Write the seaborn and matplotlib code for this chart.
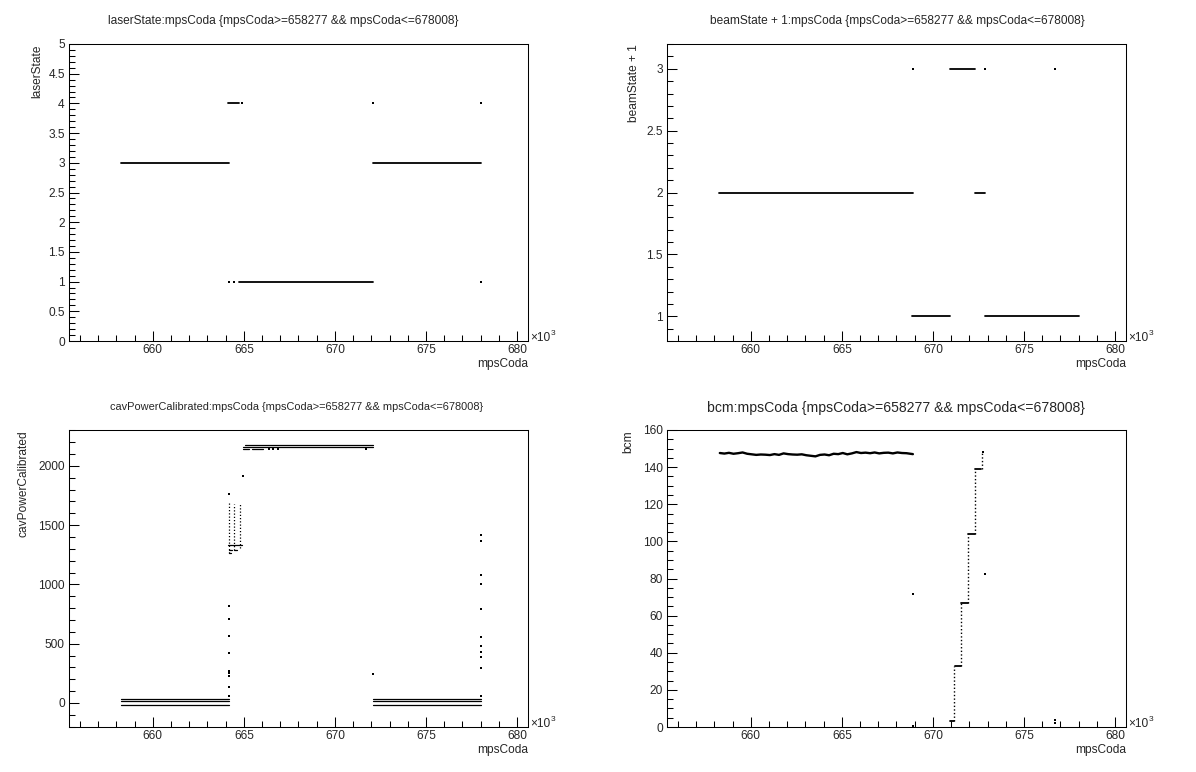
import matplotlib
matplotlib.use("Agg")
import numpy as np
import pandas as pd
import seaborn as sns
import matplotlib.pyplot as plt
from matplotlib.ticker import MultipleLocator, FormatStrFormatter

# ---- data (mpsCoda in units of 10^3) ----
cut = "{mpsCoda>=658277 && mpsCoda<=678008}"

# laserState
laser_seg_x0 = [658.28, 672.10, 664.15, 664.76]
laser_seg_x1 = [664.21, 678.01, 664.74, 672.10]
laser_seg_y = [3, 3, 4, 1]
laser_dot_x = [664.90, 672.10, 678.00, 664.17, 664.46, 678.00]
laser_dot_y = [4, 4, 4, 1, 1, 1]

# beamState + 1
beam_seg_x0 = [658.28, 672.29, 668.86, 672.84, 670.91]
beam_seg_x1 = [668.90, 672.88, 670.91, 678.01, 672.31]
beam_seg_y = [2, 2, 1, 1, 3]
beam_dot_x = [668.90, 672.86, 676.71]
beam_dot_y = [3, 3, 3]

# cavPowerCalibrated
cav_seg_x0 = [658.28, 658.28, 658.28, 672.10, 672.10, 672.10,
              665.05, 664.95, 664.95, 665.45,
              664.15, 664.20, 664.45, 664.20]
cav_seg_x1 = [664.21, 664.21, 664.21, 678.01, 678.01, 678.01,
              672.10, 672.10, 665.30, 666.05,
              664.90, 664.35, 664.60, 664.32]
cav_seg_y = [34, 15, -16, 34, 15, -16,
             2176, 2160, 2141, 2141,
             1334, 1292, 1292, 1264]
cav_col_x = [664.17, 664.46, 664.77]
cav_col_lo = [1265, 1290, 1310]
cav_col_hi = [1705, 1680, 1680]
cav_dot_x = [664.17, 664.17, 664.17, 664.17, 664.17, 664.17, 664.17, 664.17, 664.17, 664.17,
             664.95, 672.10, 666.40, 666.60, 666.85, 671.72,
             678.00, 678.00, 678.00, 678.00, 678.00, 678.00, 678.00, 678.00, 678.00, 678.00, 678.00]
cav_dot_y = [1764, 820, 710, 561, 424, 270, 250, 228, 134, 61,
             1916, 244, 2141, 2141, 2141, 2141,
             1416, 1368, 1079, 1003, 792, 559, 483, 427, 385, 295, 62]

# bcm
bcm_x = [658.30, 658.55, 658.80, 659.05, 659.30, 659.55, 659.80, 660.05, 660.30, 660.55,
         660.80, 661.05, 661.30, 661.55, 661.80, 662.05, 662.30, 662.55, 662.80, 663.05,
         663.30, 663.55, 663.80, 664.05, 664.30, 664.55, 664.80, 665.05, 665.30, 665.55,
         665.80, 666.05, 666.30, 666.55, 666.80, 667.05, 667.30, 667.55, 667.80, 668.05,
         668.30, 668.55, 668.90]
bcm_y = [147.6, 147.3, 147.7, 147.2, 147.5, 147.9, 147.2, 146.9, 146.6, 146.8,
         146.7, 146.5, 147.0, 146.6, 147.4, 147.0, 146.8, 146.7, 146.9, 146.4,
         146.1, 145.8, 146.6, 146.8, 146.4, 147.2, 147.0, 147.6, 146.9, 147.4,
         148.1, 147.6, 147.8, 147.5, 147.9, 147.4, 147.7, 147.8, 147.4, 147.9,
         147.6, 147.5, 147.0]
bcm_step_x0 = [670.92, 671.20, 671.54, 671.93, 672.29]
bcm_step_x1 = [671.14, 671.52, 671.93, 672.29, 672.66]
bcm_step_y = [3.4, 32.8, 66.7, 103.9, 139.0]
bcm_rise_x = [671.17, 671.53, 671.93, 672.29, 672.70]
bcm_rise_lo = [3.4, 32.8, 66.7, 103.9, 139.0]
bcm_rise_hi = [32.8, 66.7, 103.9, 139.0, 148.0]
bcm_dot_x = [672.75, 668.90, 672.84, 668.90, 676.71, 676.71]
bcm_dot_y = [148.3, 71.5, 82.3, 0.7, 2.0, 3.6]

sns.set_theme(style="ticks")
plt.rcParams["font.family"] = ["Liberation Sans", "DejaVu Sans"]
plt.rcParams["axes.linewidth"] = 0.75

fig = plt.figure(figsize=(11.96, 7.72), dpi=100)
W, H = 1196, 772


def make_axes(left, top):
    return fig.add_axes([left / W, 1 - (top + 297) / H, 459 / W, 297 / H])


def segments(ax, x0, x1, y, lw=1.3):
    n = len(y)
    df = pd.DataFrame({"x": list(x0) + list(x1), "y": list(y) + list(y),
                       "seg": list(range(n)) * 2})
    sns.lineplot(data=df, x="x", y="y", units="seg", estimator=None, sort=False,
                 color="black", linewidth=lw, ax=ax)


def dots(ax, x, y):
    sns.scatterplot(x=x, y=y, color="black", s=3.5, marker="s", linewidth=0, ax=ax)


def style(ax, ylim, ymajor, yminor, ylabel, ylab_x):
    ax.set_xlim(655.4, 680.6)
    ax.set_ylim(*ylim)
    ax.xaxis.set_major_locator(MultipleLocator(5))
    ax.xaxis.set_minor_locator(MultipleLocator(1))
    ax.yaxis.set_major_locator(MultipleLocator(ymajor))
    ax.yaxis.set_minor_locator(MultipleLocator(yminor))
    ax.yaxis.set_major_formatter(FormatStrFormatter("%g"))
    ax.xaxis.set_major_formatter(FormatStrFormatter("%g"))
    ax.tick_params(which="both", direction="in", top=False, right=False,
                   width=0.75, labelsize=8.6, color="black")
    ax.tick_params(which="major", length=6.9)
    ax.tick_params(which="minor", length=4.4)
    ax.tick_params(axis="x", pad=2.5)
    ax.tick_params(axis="y", pad=3)
    for s in ax.spines.values():
        s.set_visible(True)
        s.set_color("black")
    ax.set_xlabel("")
    ax.set_ylabel("")
    ax.text(1.0, -0.077, "mpsCoda", transform=ax.transAxes, ha="right", va="center",
            fontsize=8.6)
    ax.text(ylab_x, 1.0, ylabel, transform=ax.transAxes, rotation=90, ha="center",
            va="top", fontsize=8.6)
    ax.text(1.004, 0.0, "\u00d710", transform=ax.transAxes, ha="left", va="baseline",
            fontsize=8.6)
    ax.annotate("3", xy=(1.004, 0.0), xycoords="axes fraction", xytext=(14.8, 4.3),
                textcoords="offset points", ha="left", va="baseline", fontsize=6)


# top-left: laserState
ax1 = make_axes(69, 44)
segments(ax1, laser_seg_x0, laser_seg_x1, laser_seg_y)
dots(ax1, laser_dot_x, laser_dot_y)
style(ax1, (0, 5), 0.5, 0.1, "laserState", -0.07)

# top-right: beamState + 1
ax2 = make_axes(667, 44)
segments(ax2, beam_seg_x0, beam_seg_x1, beam_seg_y)
dots(ax2, beam_dot_x, beam_dot_y)
style(ax2, (0.8, 3.2), 0.5, 0.1, "beamState + 1", -0.072)

# bottom-left: cavPowerCalibrated
ax3 = make_axes(69, 430)
segments(ax3, cav_seg_x0, cav_seg_x1, cav_seg_y, lw=0.9)
ax3.vlines(cav_col_x, cav_col_lo, cav_col_hi, colors="black", linewidth=0.9,
           linestyles=(0, (1, 1.6)))
dots(ax3, cav_dot_x, cav_dot_y)
style(ax3, (-203, 2303), 500, 100, "cavPowerCalibrated", -0.1)

# bottom-right: bcm
ax4 = make_axes(667, 430)
sns.lineplot(x=bcm_x, y=bcm_y, estimator=None, sort=False, color="black",
             linewidth=1.7, ax=ax4)
segments(ax4, bcm_step_x0, bcm_step_x1, bcm_step_y, lw=1.3)
ax4.vlines(bcm_rise_x, bcm_rise_lo, bcm_rise_hi, colors="black", linewidth=1.0,
           linestyles=(0, (1, 1.6)))
dots(ax4, bcm_dot_x, bcm_dot_y)
style(ax4, (0, 160), 20, 5, "bcm", -0.085)

# titles
fig.text(283 / W, 1 - 21 / H, "laserState:mpsCoda " + cut, ha="center", va="center",
         fontsize=8.6)
fig.text(897 / W, 1 - 21 / H, "beamState + 1:mpsCoda " + cut, ha="center", va="center",
         fontsize=8.6)
fig.text(297 / W, 1 - 407 / H, "cavPowerCalibrated:mpsCoda " + cut, ha="center",
         va="center", fontsize=7.9)
fig.text(896 / W, 1 - 408 / H, "bcm:mpsCoda " + cut, ha="center", va="center",
         fontsize=10.1)

fig.savefig("out.png", dpi=100)
plt.close(fig)
